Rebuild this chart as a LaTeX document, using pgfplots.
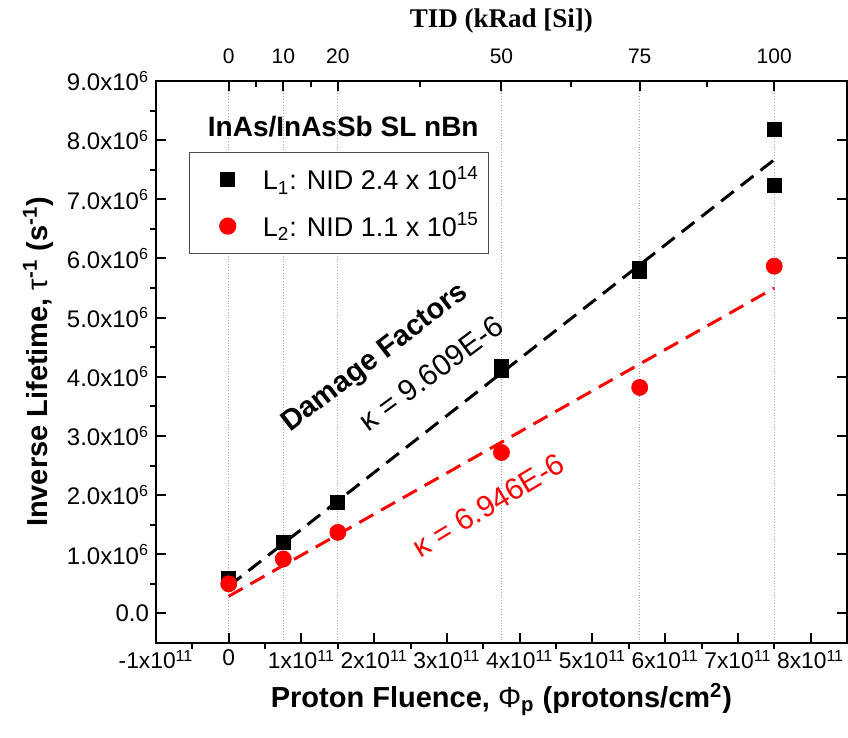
\documentclass[border=0pt]{standalone}
\usepackage{fontspec}
\setmainfont{Liberation Sans}
\newfontfamily\timesfont{Liberation Serif}
\usepackage{pgfplots}
\pgfplotsset{compat=1.18}
\begin{document}
\begin{tikzpicture}
\useasboundingbox (-78pt,-47.5pt) rectangle (346pt,321.5pt);
\begin{axis}[
  scale only axis, width=345.5pt, height=281pt,
  xmin=-1e11, xmax=8.5e11, ymin=-0.5e6, ymax=9e6,
  axis x line*=top, axis y line=none,
  xtick={0,0.75e11,1.5e11,3.75e11,5.65e11,7.5e11},
  xticklabels={0,10,20,50,75,100},
  minor xtick={0.375e11,1.125e11,2.625e11,4.7e11,6.575e11},
  scaled x ticks=false,
  tick align=inside, major tick length=5pt, minor tick length=3pt,
  xmajorgrids, grid style={densely dotted, gray!70, line width=0.5pt},
  minor grid style={draw=none},
  axis line style={line width=1pt}, tick style={line width=1pt, black},
  ticklabel style={font=\fontsize{10.5}{12}\selectfont},
  xticklabel style={yshift=5pt},
  xlabel={\timesfont\bfseries TID (kRad [Si])},
  xlabel style={font=\fontsize{13.5}{15}\selectfont, yshift=1pt},
]
\end{axis}
\begin{axis}[
  scale only axis, width=345.5pt, height=281pt,
  xmin=-1e11, xmax=8.5e11, ymin=-0.5e6, ymax=9e6,
  xtick={-1e11,0,1e11,2e11,3e11,4e11,5e11,6e11,7e11,8e11},
  xticklabels={-1x10\textsuperscript{11},0,1x10\textsuperscript{11},2x10\textsuperscript{11},3x10\textsuperscript{11},4x10\textsuperscript{11},5x10\textsuperscript{11},6x10\textsuperscript{11},7x10\textsuperscript{11},8x10\textsuperscript{11}},
  ytick={0,1e6,2e6,3e6,4e6,5e6,6e6,7e6,8e6,9e6},
  yticklabels={0.0,1.0x10\textsuperscript{6},2.0x10\textsuperscript{6},3.0x10\textsuperscript{6},4.0x10\textsuperscript{6},5.0x10\textsuperscript{6},6.0x10\textsuperscript{6},7.0x10\textsuperscript{6},8.0x10\textsuperscript{6},9.0x10\textsuperscript{6}},
  scaled x ticks=false, scaled y ticks=false,
  xtick pos=bottom,
  minor x tick num=1, minor y tick num=1,
  tick align=inside, major tick length=5pt, minor tick length=-3pt,
  axis line style={line width=1pt}, tick style={line width=1pt, black},
  yticklabel style={font=\fontsize{12}{14}\selectfont},
  xticklabel style={font=\fontsize{11.4}{14}\selectfont},
  label style={font=\fontsize{14.5}{16}\selectfont},
  xlabel={\bfseries Proton Fluence, {\mdseries Φ}\textsubscript{p} (protons/cm\textsuperscript{2})},
  ylabel={\bfseries Inverse Lifetime, {\mdseries τ}\textsuperscript{-1} (s\textsuperscript{-1})},
  legend style={at={(0.048,0.874)}, anchor=north west, draw=gray!60!black, line width=0.6pt,
    font=\fontsize{13.5}{16}\selectfont, row sep=6pt, inner xsep=3pt, inner ysep=5pt},
  legend cell align=left,
  legend image code/.code={\path[draw=none,fill=none] (0pt,0pt) rectangle (31.5pt,0pt); \draw[#1] plot coordinates {(16pt,0pt)};},
]
\addplot[black, line width=1.5pt, dash pattern=on 8pt off 4.5pt, forget plot] coordinates {(0,0.46e6) (7.5e11,7.67e6)};
\addplot[red, line width=1.5pt, dash pattern=on 8pt off 4.5pt, forget plot] coordinates {(0,0.29e6) (7.5e11,5.5e6)};
\addplot[only marks, mark=square*, mark size=3.5pt, black] coordinates {
  (0,0.6e6) (0.75e11,1.2e6) (1.5e11,1.87e6) (3.75e11,4.1e6) (3.75e11,4.17e6)
  (5.65e11,5.78e6) (5.65e11,5.84e6) (7.5e11,8.19e6) (7.5e11,7.23e6)};
\addlegendentry{L\textsubscript{1}: NID 2.4 x 10\textsuperscript{14}}
\addplot[only marks, mark=*, mark size=4pt, red] coordinates {
  (0,0.5e6) (0.75e11,0.92e6) (1.5e11,1.37e6) (3.75e11,2.72e6) (5.65e11,3.82e6) (7.5e11,5.87e6)};
\addlegendentry{L\textsubscript{2}: NID 1.1 x 10\textsuperscript{15}}
\node[font=\bfseries\fontsize{14}{16}\selectfont] at (rel axis cs:0.271,0.918) {InAs/InAsSb SL nBn};
\node[rotate=37.5, font=\bfseries\fontsize{14.5}{16}\selectfont] at (axis cs:2.02e11,4.31e6) {Damage Factors};
\node[rotate=36.4, font=\fontsize{15}{17}\selectfont] at (axis cs:2.78e11,4.06e6) {κ = 9.609E-6};
\node[rotate=31, red, font=\fontsize{15}{17}\selectfont] at (axis cs:3.57e11,1.83e6) {κ = 6.946E-6};
\end{axis}
\end{tikzpicture}
\end{document}
